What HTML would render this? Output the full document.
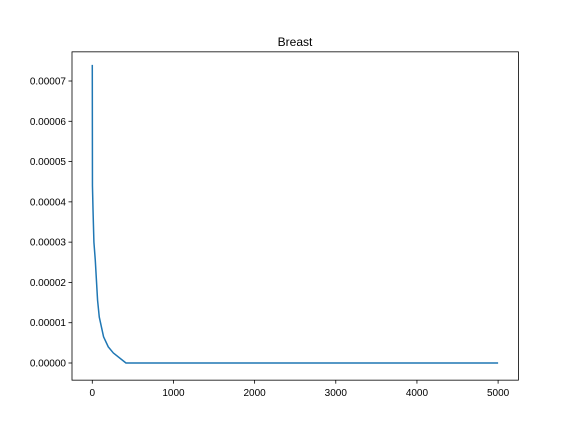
<!DOCTYPE html>
<html><head><meta charset="utf-8"><style>
body{margin:0;background:#fff;}
svg{display:block;font-family:"Liberation Sans","DejaVu Sans",sans-serif;}
</style></head><body>
<svg id="chart" width="576" height="432">
<rect width="576" height="432" fill="#fff"/>
<text x="295" y="46" text-anchor="middle" font-size="12">Breast</text>
<g id="plot"></g>
</svg>
<script>
const xVals=[0,2,9,20,37,65,86,139,197,259,415,1000,2000,3000,4000,5000];
const yVals=[7.4e-5,4.4e-5,3.8e-5,3.0e-5,2.55e-5,1.56e-5,1.14e-5,0.65e-5,0.40e-5,0.25e-5,0,0,0,0,0,0];
const xTicks=[0,1000,2000,3000,4000,5000];
const yTicks=[0,0.00001,0.00002,0.00003,0.00004,0.00005,0.00006,0.00007];
const yTickLabels=["0.00000","0.00001","0.00002","0.00003","0.00004","0.00005","0.00006","0.00007"];
const L=72,R=518.4,T=51.84,B=380.16;
const xMin=-250,xMax=5250,yMin=-0.00000426,yMax=0.00007724;
const sx=v=>L+(v-xMin)/(xMax-xMin)*(R-L);
const sy=v=>B-(v-yMin)/(yMax-yMin)*(B-T);
const g=document.getElementById('plot');
const NS="http://www.w3.org/2000/svg";
function mk(t,a){const e=document.createElementNS(NS,t);for(const k in a)e.setAttribute(k,a[k]);g.appendChild(e);return e;}
let d=xVals.map((x,i)=>(i?'L':'M')+sx(x).toFixed(2)+','+sy(yVals[i]).toFixed(2)).join('');
const line=mk('path',{d:d,fill:'none',stroke:'#1f77b4','stroke-width':1.5,'stroke-linejoin':'round'});


const frame=mk('rect',{x:L,y:T,width:R-L,height:B-T,fill:'none',stroke:'#000','stroke-width':0.8});


xTicks.forEach(v=>{const x=sx(v);
mk('line',{x1:x,x2:x,y1:B,y2:B+3.5,stroke:'#000','stroke-width':0.8});
const t=mk('text',{x:x,y:B+16,'text-anchor':'middle','font-size':10});t.textContent=v;

});
yTicks.forEach((v,i)=>{const y=sy(v);
mk('line',{x1:L-3.5,x2:L,y1:y,y2:y,stroke:'#000','stroke-width':0.8});
const t=mk('text',{x:L-6,y:y+3.5,'text-anchor':'end','font-size':10});t.textContent=yTickLabels[i];

});
</script>
</body></html>
